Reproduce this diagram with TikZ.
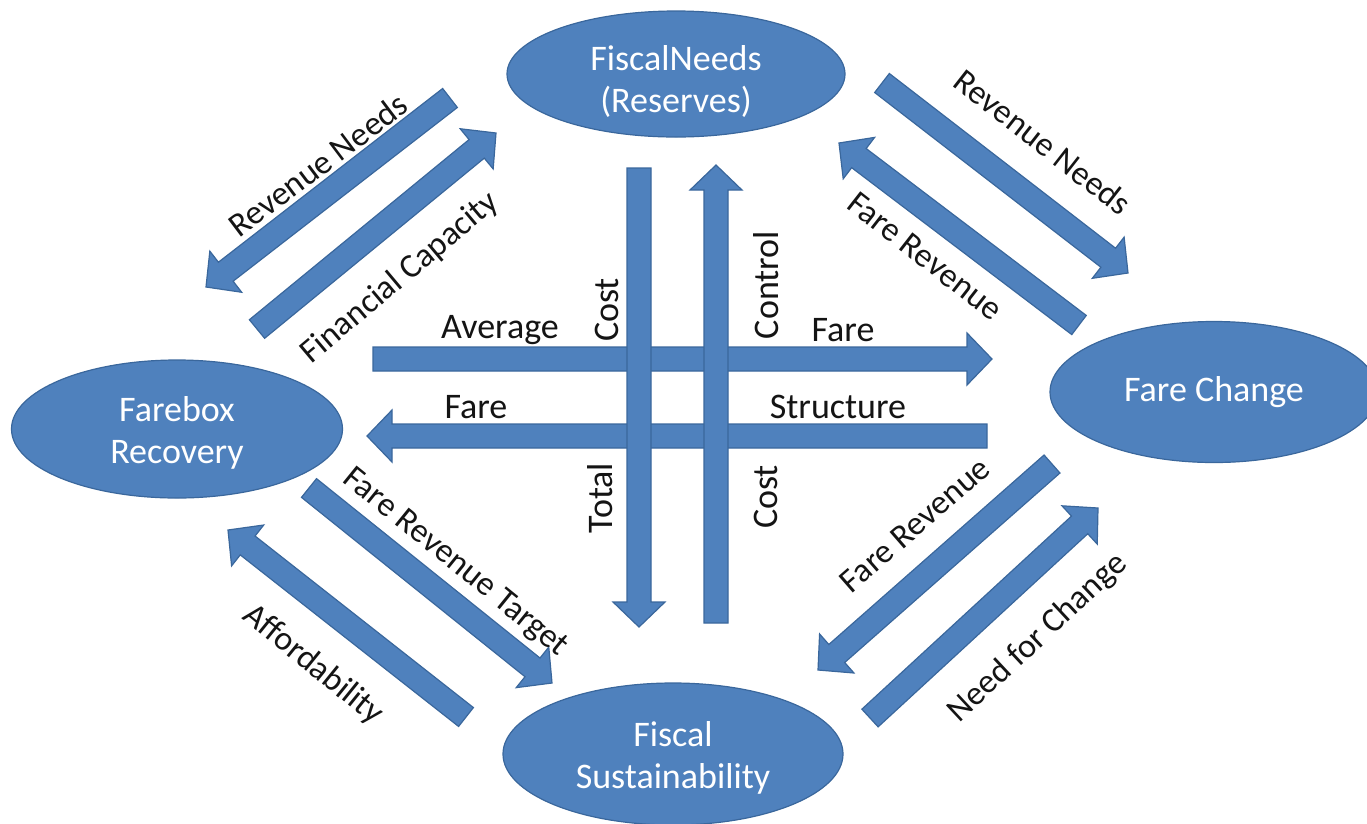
\documentclass[tikz,border=0pt]{standalone}
\usepackage{fontspec}
\setmainfont{Carlito}
\usetikzlibrary{calc,shapes.geometric}
\definecolor{boxblue}{HTML}{4F81BD}
\definecolor{edgeblue}{HTML}{3A679C}
\definecolor{labelink}{HTML}{141414}
\tikzset{
  ell/.style={ellipse, fill=boxblue, draw=edgeblue, line width=1.2pt, text=white,
    align=center, font=\fontsize{36}{42}\selectfont, inner sep=0pt},
  blk/.style={fill=boxblue, draw=edgeblue, line width=1.2pt, line join=miter},
  lbl/.style={text=labelink, font=\fontsize{36}{42}\selectfont, inner sep=0pt},
  dlbl/.style={text=labelink, font=\fontsize{34}{40}\selectfont, inner sep=0pt},
}
% block arrow from tail #1 to tip #2
\newcommand\blockarrow[2]{%
  \coordinate (hb) at ($(#2)!25pt!(#1)$);
  \path[blk] ($(#1)!12pt!90:(#2)$) -- ($(hb)!12pt!90:(#2)$) -- ($(hb)!26pt!90:(#2)$)
    -- (#2) -- ($(hb)!26pt!-90:(#2)$) -- ($(hb)!12pt!-90:(#2)$)
    -- ($(#1)!12pt!-90:(#2)$) -- cycle;}

\begin{document}
\begin{tikzpicture}[x=1pt,y=-1pt]
\useasboundingbox (0,0) rectangle (1367,823);

% ---- ellipses
\node[ell, minimum width=338pt, minimum height=126pt] (fn) at (676,74) {\rule{0pt}{40pt}FiscalNeeds\\(Reserves)};
\node[ell, minimum width=331pt, minimum height=138pt] (fb) at (177,429) {\rule{0pt}{32pt}Farebox\\Recovery};
\node[ell, minimum width=328pt, minimum height=141pt] (fc) at (1214,392) {Fare Change};
\node[ell, minimum width=340pt, minimum height=142pt] (fs) at (673,754) {\rule{0pt}{32pt}Fiscal\\Sustainability};

% ---- arrow end points
\coordinate (hrT) at (373,359);  \coordinate (hrH) at (992,359);
\coordinate (hlT) at (987,436);  \coordinate (hlH) at (367,436);
\coordinate (vdT) at (639,168);  \coordinate (vdH) at (639,627);
\coordinate (vuT) at (716,623);  \coordinate (vuH) at (716,165);
\coordinate (tl1T) at (450,98);  \coordinate (tl1H) at (206,287);
\coordinate (tl2T) at (257,329); \coordinate (tl2H) at (496,133);
\coordinate (tr1T) at (882,83);  \coordinate (tr1H) at (1128,273);
\coordinate (tr2T) at (1079,325);\coordinate (tr2H) at (839,143);
\coordinate (bl1T) at (309,488); \coordinate (bl1H) at (552,683);
\coordinate (bl2T) at (466,717); \coordinate (bl2H) at (228,530);
\coordinate (br1T) at (1052,464);\coordinate (br1H) at (818,670);
\coordinate (br2T) at (870,718); \coordinate (br2H) at (1098,508);

% ---- arrows
\blockarrow{hrT}{hrH}
\blockarrow{hlT}{hlH}
\blockarrow{vdT}{vdH}
\blockarrow{vuT}{vuH}
\blockarrow{tl1T}{tl1H}
\blockarrow{tl2T}{tl2H}
\blockarrow{tr1T}{tr1H}
\blockarrow{tr2T}{tr2H}
\blockarrow{bl1T}{bl1H}
\blockarrow{bl2T}{bl2H}
\blockarrow{br1T}{br1H}
\blockarrow{br2T}{br2H}

% ---- centre labels
\node[lbl] (lavg) at (500,330) {Average};
\node[lbl] (lfare1) at (843,330) {Fare};
\node[lbl] (lfare2) at (476,407) {Fare};
\node[lbl] (lstr) at (838,407) {Structure};
\node[lbl, rotate=90] (lcost1) at (607,310) {Cost};
\node[lbl, rotate=90] (lctrl) at (766,285) {Control};
\node[lbl, rotate=90] (ltot) at (600,498) {Total};
\node[lbl, rotate=90] (lcost2) at (766,497) {Cost};

% ---- diagonal labels
\node[dlbl, rotate=37] (lrn1) at (318,165) {Revenue Needs};
\node[dlbl, rotate=40] (lfc) at (400,278) {Financial Capacity};
\node[dlbl, rotate=-38] (lrn2) at (1043,142) {Revenue Needs};
\node[dlbl, rotate=-38] (lfr1) at (925,256) {Fare Revenue};
\node[dlbl, rotate=-39] (lfrt) at (455,563) {Fare Revenue Target};
\node[dlbl, rotate=-39] (laff) at (313,665) {Affordability};
\node[dlbl, rotate=41] (lfr2) at (915,525) {Fare Revenue};
\node[dlbl, rotate=43] (lnfc) at (1038,638) {Need for Change};
\end{tikzpicture}
\end{document}
